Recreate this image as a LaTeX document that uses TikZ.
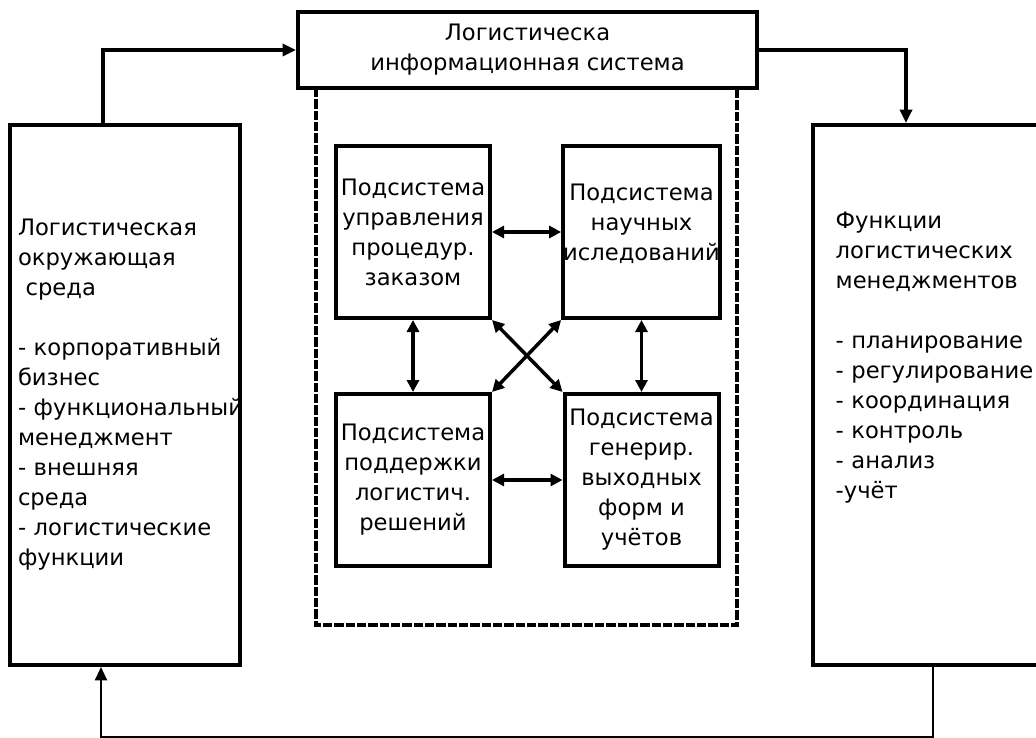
\documentclass[tikz,border=0pt]{standalone}
\usepackage{fontspec}
\setmainfont{DejaVu Sans}
\usetikzlibrary{arrows.meta,calc}

\tikzset{
  box/.style={draw=black, line width=3pt, inner sep=0pt, align=center,
    font=\fontsize{17}{22.5}\selectfont},
  sub/.style={box, minimum width=115.5pt, minimum height=129pt},
  link/.style={line width=2.6pt, {Triangle[length=9pt,width=9pt]}-{Triangle[length=9pt,width=9pt]}},
  feed/.style={line width=2.6pt, -{Triangle[length=10pt,width=9pt]}}
}

\begin{document}
\begin{tikzpicture}[x=0.75pt, y=-0.75pt]
\useasboundingbox (0,0) rectangle (1036,738);
% information system and its frame
\node[box, minimum width=344.25pt, minimum height=57pt] (lis) at (527.5,50) {Логистическа\\информационная система};
\draw[line width=2.5pt, dash pattern=on 7pt off 1.5pt] (316,88) rectangle (737,625);
\node[sub] (A) at (413,232) {Подсистема\\управления\\процедур.\\заказом};
\node[sub, text depth=15pt] (B) at (641.5,232) {Подсистема\\научных\\иследований};
\node[sub] (C) at (413,480) {Подсистема\\поддержки\\логистич.\\решений};
\node[sub] (D) at (641.5,480) {Подсистема\\генерир.\\выходных\\форм и\\учётов};
% outer boxes
\node[box, minimum width=172.5pt, minimum height=405pt, text width=160.5pt, inner xsep=6pt, align=left] (env) at (125,395)
  {Логистическая\\окружающая\\~среда\\[22.5pt]\mbox{- корпоративный}\\бизнес\\\mbox{- функциональный}\\менеджмент\\\mbox{- внешняя}\\среда\\\mbox{- логистические}\\функции};
\node[box, minimum width=195pt, minimum height=405pt, text width=161pt, inner xsep=17pt, align=left] (fun) at (943,395)
  {Функции\\логистических\\менеджментов\\[22.5pt]\mbox{- планирование}\\\mbox{- регулирование}\\\mbox{- координация}\\\mbox{- контроль}\\\mbox{- анализ}\\-учёт\\[37.5pt]\mbox{}};
% links between subsystems
\draw[link] (A.east) -- (B.west);
\draw[link] (C.east) -- (D.west);
\draw[link] (A.south) -- (C.north);
\draw[link] (B.south) -- (D.north);
\draw[link] (A.south east) -- (D.north west);
\draw[link] (B.south west) -- (C.north east);
% flows
\draw[feed] ($(env.north west)+(95,0)$) |- (lis.west);
\draw[feed] (lis.east) -| ($(fun.north west)+(95,0)$);
\draw[feed, line width=1.5pt] ($(fun.south west)+(122,0)$) -- ++(0,70) -| ($(env.south west)+(93,0)$);
\end{tikzpicture}
\end{document}
